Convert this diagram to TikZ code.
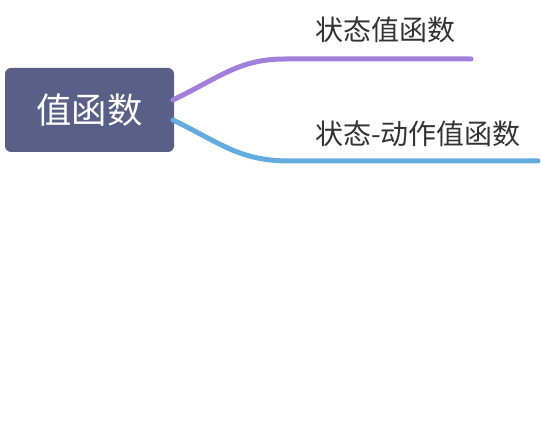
\documentclass[tikz,border=0pt]{standalone}
\usepackage{fontspec}
\newfontfamily\cjk{Noto Sans CJK SC}
\definecolor{rootfill}{RGB}{90,95,135}
\definecolor{brpurple}{RGB}{160,128,218}
\definecolor{brblue}{RGB}{100,172,224}
\definecolor{labeltext}{RGB}{51,51,51}
\tikzset{
  rootbox/.style={draw=none,fill=rootfill,rounded corners=4.5pt,minimum width=126.75pt,minimum height=63pt,inner sep=0pt,text=white,font=\cjk\fontsize{26.5}{26.5}\selectfont},
  leaflabel/.style={anchor=base west,inner sep=0pt,text=labeltext,font=\cjk\fontsize{21}{21}\selectfont},
  branch/.style={line width=3.75pt,line cap=round}
}
\begin{document}
\begin{tikzpicture}[x=0.75pt,y=-0.75pt]
\useasboundingbox (0,0) rectangle (542,427);
\node[rootbox] (root) at (89.5,110) {值函数};
\coordinate (s1) at (173,100);
\coordinate (s2) at (173,120);
\coordinate (e1) at (471,59);
\coordinate (e2) at (538,161);
\coordinate (k1) at (285,59);
\coordinate (k2) at (290,161);
\draw[branch,brpurple] (s1) .. controls (222,76) and (240,59) .. (k1) -- (e1);
\draw[branch,brblue] (s2) .. controls (222,144) and (240,161) .. (k2) -- (e2);
\node[leaflabel] (l1) at (315,41) {状态值函数};
\node[leaflabel] (l2) at (315,145) {状态-动作值函数};
\end{tikzpicture}
\end{document}
